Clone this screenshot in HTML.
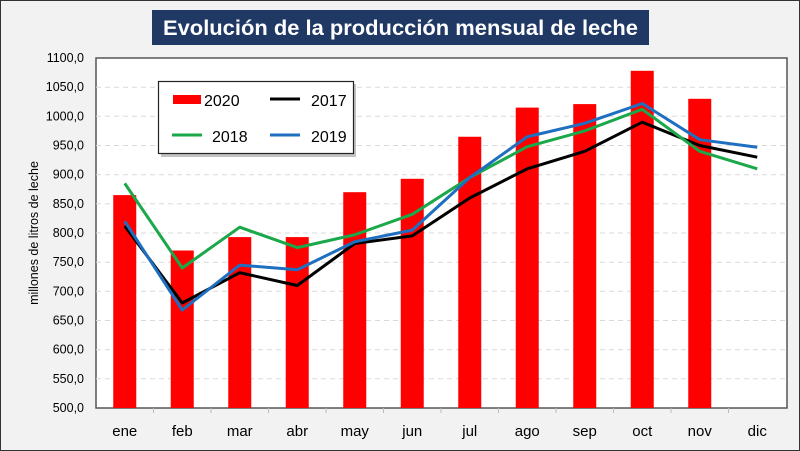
<!DOCTYPE html>
<html><head><meta charset="utf-8"><style>
body{margin:0;background:#fff}
svg{display:block;font-family:"Liberation Sans",sans-serif}
</style></head><body>
<svg width="800" height="451" viewBox="0 0 800 451">
<rect x="0.5" y="0.5" width="799" height="450" fill="#f2f2f2" stroke="#333"/>
<rect x="152" y="10" width="497" height="35" fill="#1f3864"/>
<text x="400.5" y="35" text-anchor="middle" font-size="21" font-weight="bold" fill="#fff" textLength="475" lengthAdjust="spacingAndGlyphs">Evolución de la producción mensual de leche</text>
<rect x="96" y="58" width="691" height="350" fill="#fff" stroke="#555" stroke-width="1.5"/>
<g stroke="#d9d9d9" stroke-dasharray="5,4">
<line x1="96" x2="787" y1="87.2" y2="87.2"/><line x1="96" x2="787" y1="116.3" y2="116.3"/><line x1="96" x2="787" y1="145.5" y2="145.5"/><line x1="96" x2="787" y1="174.7" y2="174.7"/><line x1="96" x2="787" y1="203.8" y2="203.8"/><line x1="96" x2="787" y1="233" y2="233"/><line x1="96" x2="787" y1="262.2" y2="262.2"/><line x1="96" x2="787" y1="291.3" y2="291.3"/><line x1="96" x2="787" y1="320.5" y2="320.5"/><line x1="96" x2="787" y1="349.7" y2="349.7"/><line x1="96" x2="787" y1="378.8" y2="378.8"/>
</g>
<g fill="#ff0000">
<rect x="113.25" y="195.1" width="23" height="212.9"/>
<rect x="170.75" y="250.5" width="23" height="157.5"/>
<rect x="228.25" y="237.1" width="23" height="170.9"/>
<rect x="285.75" y="237.1" width="23" height="170.9"/>
<rect x="343.25" y="192.2" width="23" height="215.8"/>
<rect x="400.75" y="178.8" width="23" height="229.2"/>
<rect x="458.25" y="136.75" width="23" height="271.25"/>
<rect x="515.75" y="107.6" width="23" height="300.4"/>
<rect x="573.25" y="104.1" width="23" height="303.9"/>
<rect x="630.75" y="70.8" width="23" height="337.2"/>
<rect x="688.25" y="98.8" width="23" height="309.2"/>
</g>
<g fill="none" stroke-width="3" stroke-linejoin="round">
<polyline stroke="#000" points="124.75,226 182.25,303 239.75,272.7 297.25,285.5 354.75,243.5 412.25,235.9 469.75,198 527.25,168.8 584.75,151.3 642.25,122.2 699.75,145.5 757.25,157.2"/>
<polyline stroke="#1aa84a" points="124.75,183.4 182.25,268 239.75,227.2 297.25,247.6 354.75,234.75 412.25,214.3 469.75,177.6 527.25,146.7 584.75,130.9 642.25,109.3 699.75,151.3 757.25,168.8"/>
<polyline stroke="#1f6fc0" points="124.75,221.3 182.25,310 239.75,265.1 297.25,269.75 354.75,241.75 412.25,230.1 469.75,177.6 527.25,136.75 584.75,123.3 642.25,103.5 699.75,139.7 757.25,147.25"/>
</g>
<g stroke="#bbb"><line x1="153.5" x2="153.5" y1="408" y2="413"/><line x1="211" x2="211" y1="408" y2="413"/><line x1="268.5" x2="268.5" y1="408" y2="413"/><line x1="326" x2="326" y1="408" y2="413"/><line x1="383.5" x2="383.5" y1="408" y2="413"/><line x1="441" x2="441" y1="408" y2="413"/><line x1="498.5" x2="498.5" y1="408" y2="413"/><line x1="556" x2="556" y1="408" y2="413"/><line x1="613.5" x2="613.5" y1="408" y2="413"/><line x1="671" x2="671" y1="408" y2="413"/><line x1="728.5" x2="728.5" y1="408" y2="413"/></g>
<g font-size="12.5" text-anchor="end" fill="#000">
<text x="84" y="62">1100,0</text><text x="84" y="91.2">1050,0</text><text x="84" y="120.3">1000,0</text><text x="84" y="149.5">950,0</text><text x="84" y="178.7">900,0</text><text x="84" y="207.8">850,0</text><text x="84" y="237">800,0</text><text x="84" y="266.2">750,0</text><text x="84" y="295.3">700,0</text><text x="84" y="324.5">650,0</text><text x="84" y="353.7">600,0</text><text x="84" y="382.8">550,0</text><text x="84" y="412">500,0</text>
</g>
<g font-size="15" text-anchor="middle" fill="#000">
<text x="124.75" y="436">ene</text><text x="182.25" y="436">feb</text><text x="239.75" y="436">mar</text><text x="297.25" y="436">abr</text><text x="354.75" y="436">may</text><text x="412.25" y="436">jun</text><text x="469.75" y="436">jul</text><text x="527.25" y="436">ago</text><text x="584.75" y="436">sep</text><text x="642.25" y="436">oct</text><text x="699.75" y="436">nov</text><text x="757.25" y="436">dic</text>
</g>
<text transform="translate(38,233) rotate(-90)" text-anchor="middle" font-size="12.5">millones de litros de leche</text>
<rect x="161" y="84" width="195" height="73" fill="#888" opacity="0.5"/>
<rect x="158.5" y="81.5" width="195" height="72" fill="#fff" stroke="#222" stroke-width="1.2"/>
<rect x="173" y="95" width="28" height="9" fill="#ff0000"/>
<text x="204" y="106" font-size="16">2020</text>
<line x1="270" x2="300" y1="99" y2="99" stroke="#000" stroke-width="3"/>
<text x="311" y="106" font-size="16">2017</text>
<line x1="172" x2="202" y1="135" y2="135" stroke="#1aa84a" stroke-width="3"/>
<text x="212" y="142" font-size="16">2018</text>
<line x1="270" x2="300" y1="135" y2="135" stroke="#1f6fc0" stroke-width="3"/>
<text x="311" y="142" font-size="16">2019</text>
</svg>
</body></html>
